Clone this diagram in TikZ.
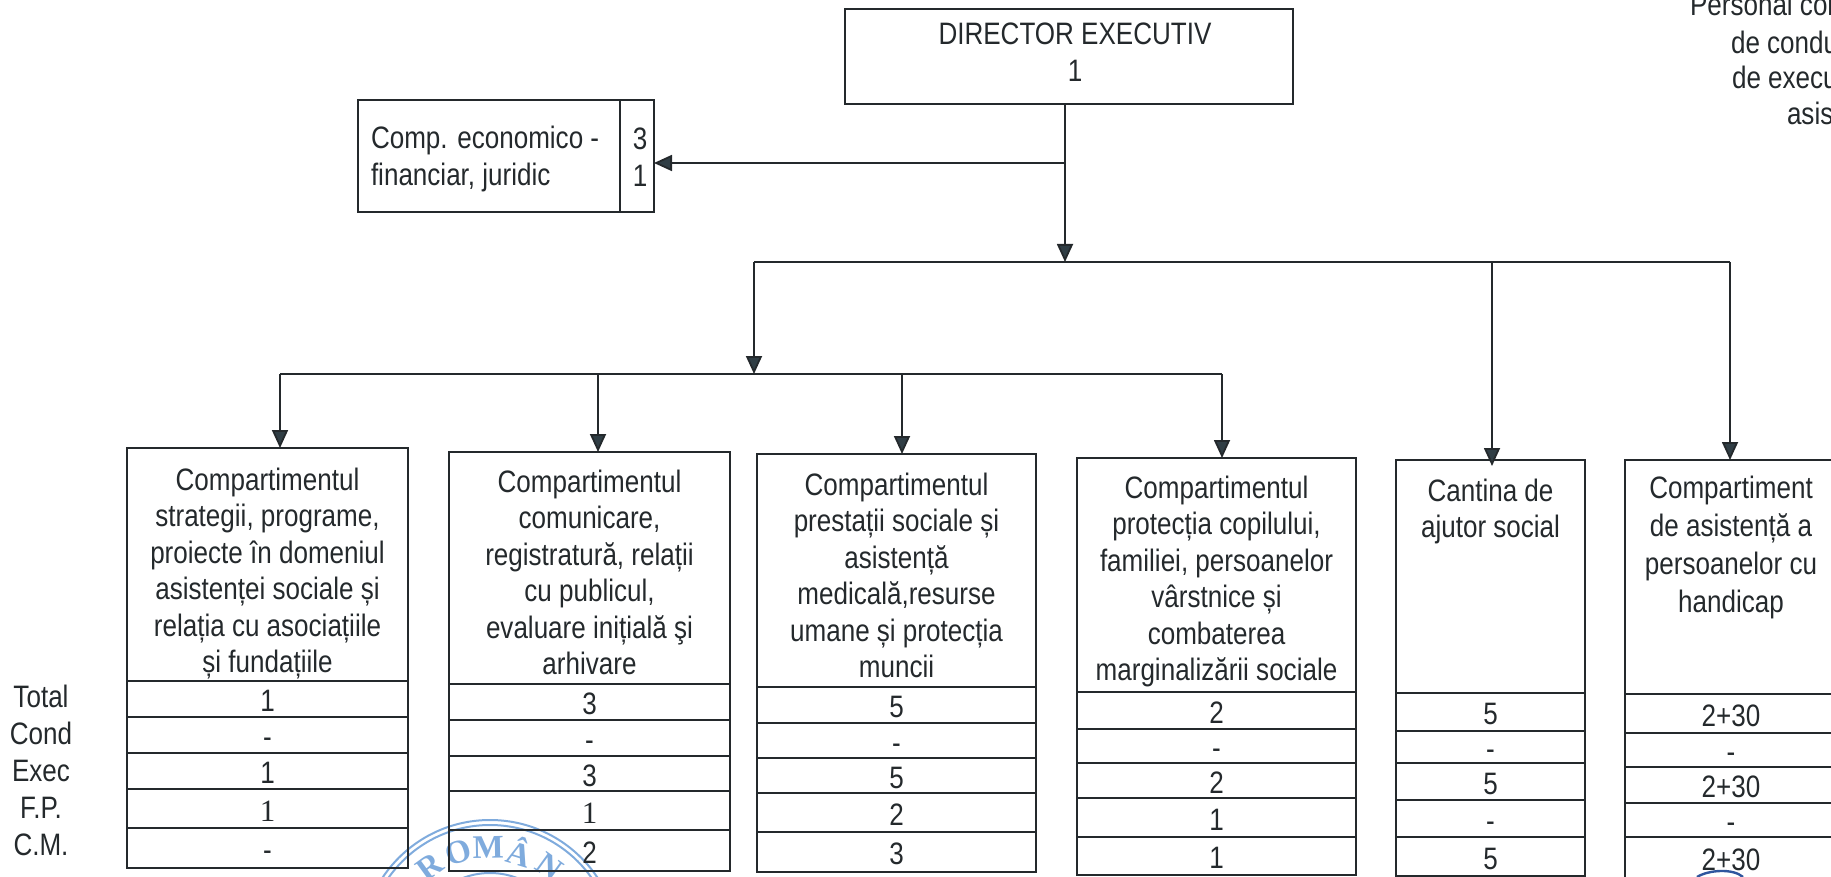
\documentclass[tikz,border=0pt]{standalone}
\usepackage{fontspec}
\setmainfont[FakeStretch=0.84]{Liberation Sans}
\newfontfamily\numserif{Liberation Serif}
\usetikzlibrary{arrows.meta,positioning}
\definecolor{inkline}{HTML}{24292C}
\definecolor{tiphead}{HTML}{303E45}
\definecolor{sealblue}{HTML}{7FABDD}
\definecolor{penblue}{HTML}{2F569E}
\tikzset{
	every node/.style={font=\fontsize{15.5}{18.2}\selectfont, text=inkline, inner sep=0pt, outer sep=0pt},
	cell/.style={draw=inkline, line width=0.9pt, anchor=north west},
	rowcell/.style={cell, text height=12.5pt, text depth=0pt},
	headtext/.style={align=center, anchor=north},
	side/.style={anchor=center},
	corner/.style={anchor=west},
	link/.style={draw=inkline, line width=0.9pt, -{Triangle[length=9pt,width=8pt,fill=tiphead]}},
	plain/.style={draw=inkline, line width=0.9pt},
	sealline/.style={draw=sealblue, line width=1pt}
}
\begin{document}
\begin{tikzpicture}[x=0.5pt,y=-0.5pt]
	\useasboundingbox (0,0) rectangle (1831,877);
	\clip (0,0) rectangle (1831,877);

	\draw[sealline] (490,949) circle [radius=129];
	\draw[sealline] (490,949) circle [radius=124];
	\draw[sealline] (490,949) circle [radius=76];
	\foreach \ch/\ang in {R/-36, O/-18, M/-1, Â/17, N/36}
		\node[text=sealblue, rotate=-\ang, font=\numserif\bfseries\fontsize{16.5}{16.5}\selectfont] (seal\ang) at ({490+102*sin(\ang)},{949-102*cos(\ang)}) {\ch};
	\draw[draw=penblue, line width=1.2pt] (1697,877) .. controls (1708,870) and (1733,868) .. (1743,877);

	\node[cell, minimum width=224pt, minimum height=47.5pt] (dir) at (845,9) {};
	\node[align=center] (dirtext) at (1075,52) {DIRECTOR EXECUTIV\\1};
	\node[cell, minimum width=131pt, minimum height=56pt] (comp) at (358,100) {};
	\node[cell, minimum width=17pt, minimum height=56pt] (compnr) at (620,100) {};
	\node[align=center] (compnrtext) at (640,157) {3\\1};
	\node[anchor=west, align=left] (comptext) at (371,159) {Comp. economico -\\financiar, juridic};

	\node[side] (ltotal) at (41,696) {Total};
	\node[side] (lcond) at (41,733) {Cond};
	\node[side] (lexec) at (41,771) {Exec};
	\node[side] (lfp) at (41,808) {F.P.};
	\node[side] (lcm) at (41,845) {C.M.};

	\node[corner] (pers) at (1690,4) {Personal con};
	\node[corner] (persb) at (1731,42) {de condu};
	\node[corner] (persc) at (1732,77) {de execu};
	\node[corner] (persd) at (1787,113) {asis};

	\def \wida{140.5pt}
	\node[cell, minimum width=\wida, minimum height=116.5pt] (a) at (127,448) {};
	\node[headtext, below=10pt of a.north] (atext) {Compartimentul\\strategii, programe,\\proiecte în domeniul\\asistenței sociale și\\relația cu asociațiile\\și fundațiile};
	\foreach \i/\y/\h/\v in {1/681/18pt/1, 2/717/18pt/-, 3/753/18pt/1, 4/789/19.5pt/{\numserif 1}, 5/828/20pt/-}
		\node[rowcell, minimum width=\wida, minimum height=\h] (a\i) at (127,\y) {\v};

	\def \widb{140.5pt}
	\node[cell, minimum width=\widb, minimum height=116pt] (b) at (449,452) {};
	\node[headtext, below=9pt of b.north] (btext) {Compartimentul\\comunicare,\\registratură, relații\\cu publicul,\\evaluare inițială şi\\arhivare};
	\foreach \i/\y/\h/\v in {1/684/18pt/3, 2/720/18pt/-, 3/756/17.5pt/3, 4/791/19.5pt/{\numserif 1}, 5/830/20.5pt/2}
		\node[rowcell, minimum width=\widb, minimum height=\h] (b\i) at (449,\y) {\v};

	\def \widc{139.5pt}
	\node[cell, minimum width=\widc, minimum height=116.5pt] (c) at (757,454) {};
	\node[headtext, below=9.5pt of c.north] (ctext) {Compartimentul\\prestații sociale și\\asistență\\medicală,resurse\\umane și protecția\\muncii};
	\foreach \i/\y/\h/\v in {1/687/18pt/5, 2/723/17.5pt/-, 3/758/17.5pt/5, 4/793/19.5pt/2, 5/832/20pt/3}
		\node[rowcell, minimum width=\widc, minimum height=\h] (c\i) at (757,\y) {\v};

	\def \widd{139.5pt}
	\node[cell, minimum width=\widd, minimum height=117pt] (d) at (1077,458) {};
	\node[headtext, below=9pt of d.north] (dtext) {Compartimentul\\protecția copilului,\\familiei, persoanelor\\vârstnice și\\combaterea\\marginalizării sociale};
	\foreach \i/\y/\h/\v in {1/692/18.5pt/2, 2/729/17pt/-, 3/763/17.5pt/2, 4/798/19.5pt/1, 5/837/19pt/1}
		\node[rowcell, minimum width=\widd, minimum height=\h] (d\i) at (1077,\y) {\v};

	\def \wide{94.5pt}
	\node[cell, minimum width=\wide, minimum height=116.5pt] (e) at (1396,460) {};
	\node[headtext, below=9.5pt of e.north] (etext) {Cantina de\\ajutor social};
	\foreach \i/\y/\h/\v in {1/693/19pt/5, 2/731/16pt/-, 3/763/18.5pt/5, 4/800/18.5pt/-, 5/837/19.5pt/5}
		\node[rowcell, minimum width=\wide, minimum height=\h] (e\i) at (1396,\y) {\v};

	\def \widf{106pt}
	\node[cell, minimum width=\widf, minimum height=117pt] (f) at (1625,460) {};
	\node[headtext, font=\fontsize{15.5}{19}\selectfont, below=8pt of f.north] (ftext) {Compartiment\\de asistență a\\persoanelor cu\\handicap};
	\foreach \i/\y/\h/\v in {1/694/19.5pt/2+30, 2/733/17pt/-, 3/767/18pt/2+30, 4/803/17pt/-, 5/837/21pt/2+30}
		\node[rowcell, minimum width=\widf, minimum height=\h] (f\i) at (1625,\y) {\v};

	\coordinate (split) at (1065,163);
	\coordinate (busl) at (754,262);
	\coordinate (busm) at (1065,262);
	\coordinate (busc) at (1492,262);
	\coordinate (busr) at (1730,262);
	\coordinate (lowl) at (280,374);
	\coordinate (lowm) at (754,374);
	\coordinate (lowb) at (598,374);
	\coordinate (lowc) at (902,374);
	\coordinate (lowr) at (1222,374);

	\draw[link] (split |- dir.south) -- (busm);
	\draw[link] (split) -- (split -| compnr.east);
	\draw[plain] (busl) -- (busr);
	\draw[link] (busl) -- (lowm);
	\draw[plain] (lowl) -- (lowr);
	\draw[link] (lowl) -- (lowl |- a.north);
	\draw[link] (lowb) -- (lowb |- b.north);
	\draw[link] (lowc) -- (lowc |- c.north);
	\draw[link] (lowr) -- (lowr |- d.north);
	\draw[link, shorten >=-3pt] (busc) -- (busc |- e.north);
	\draw[link] (busr) -- (busr |- f.north);
\end{tikzpicture}
\end{document}
